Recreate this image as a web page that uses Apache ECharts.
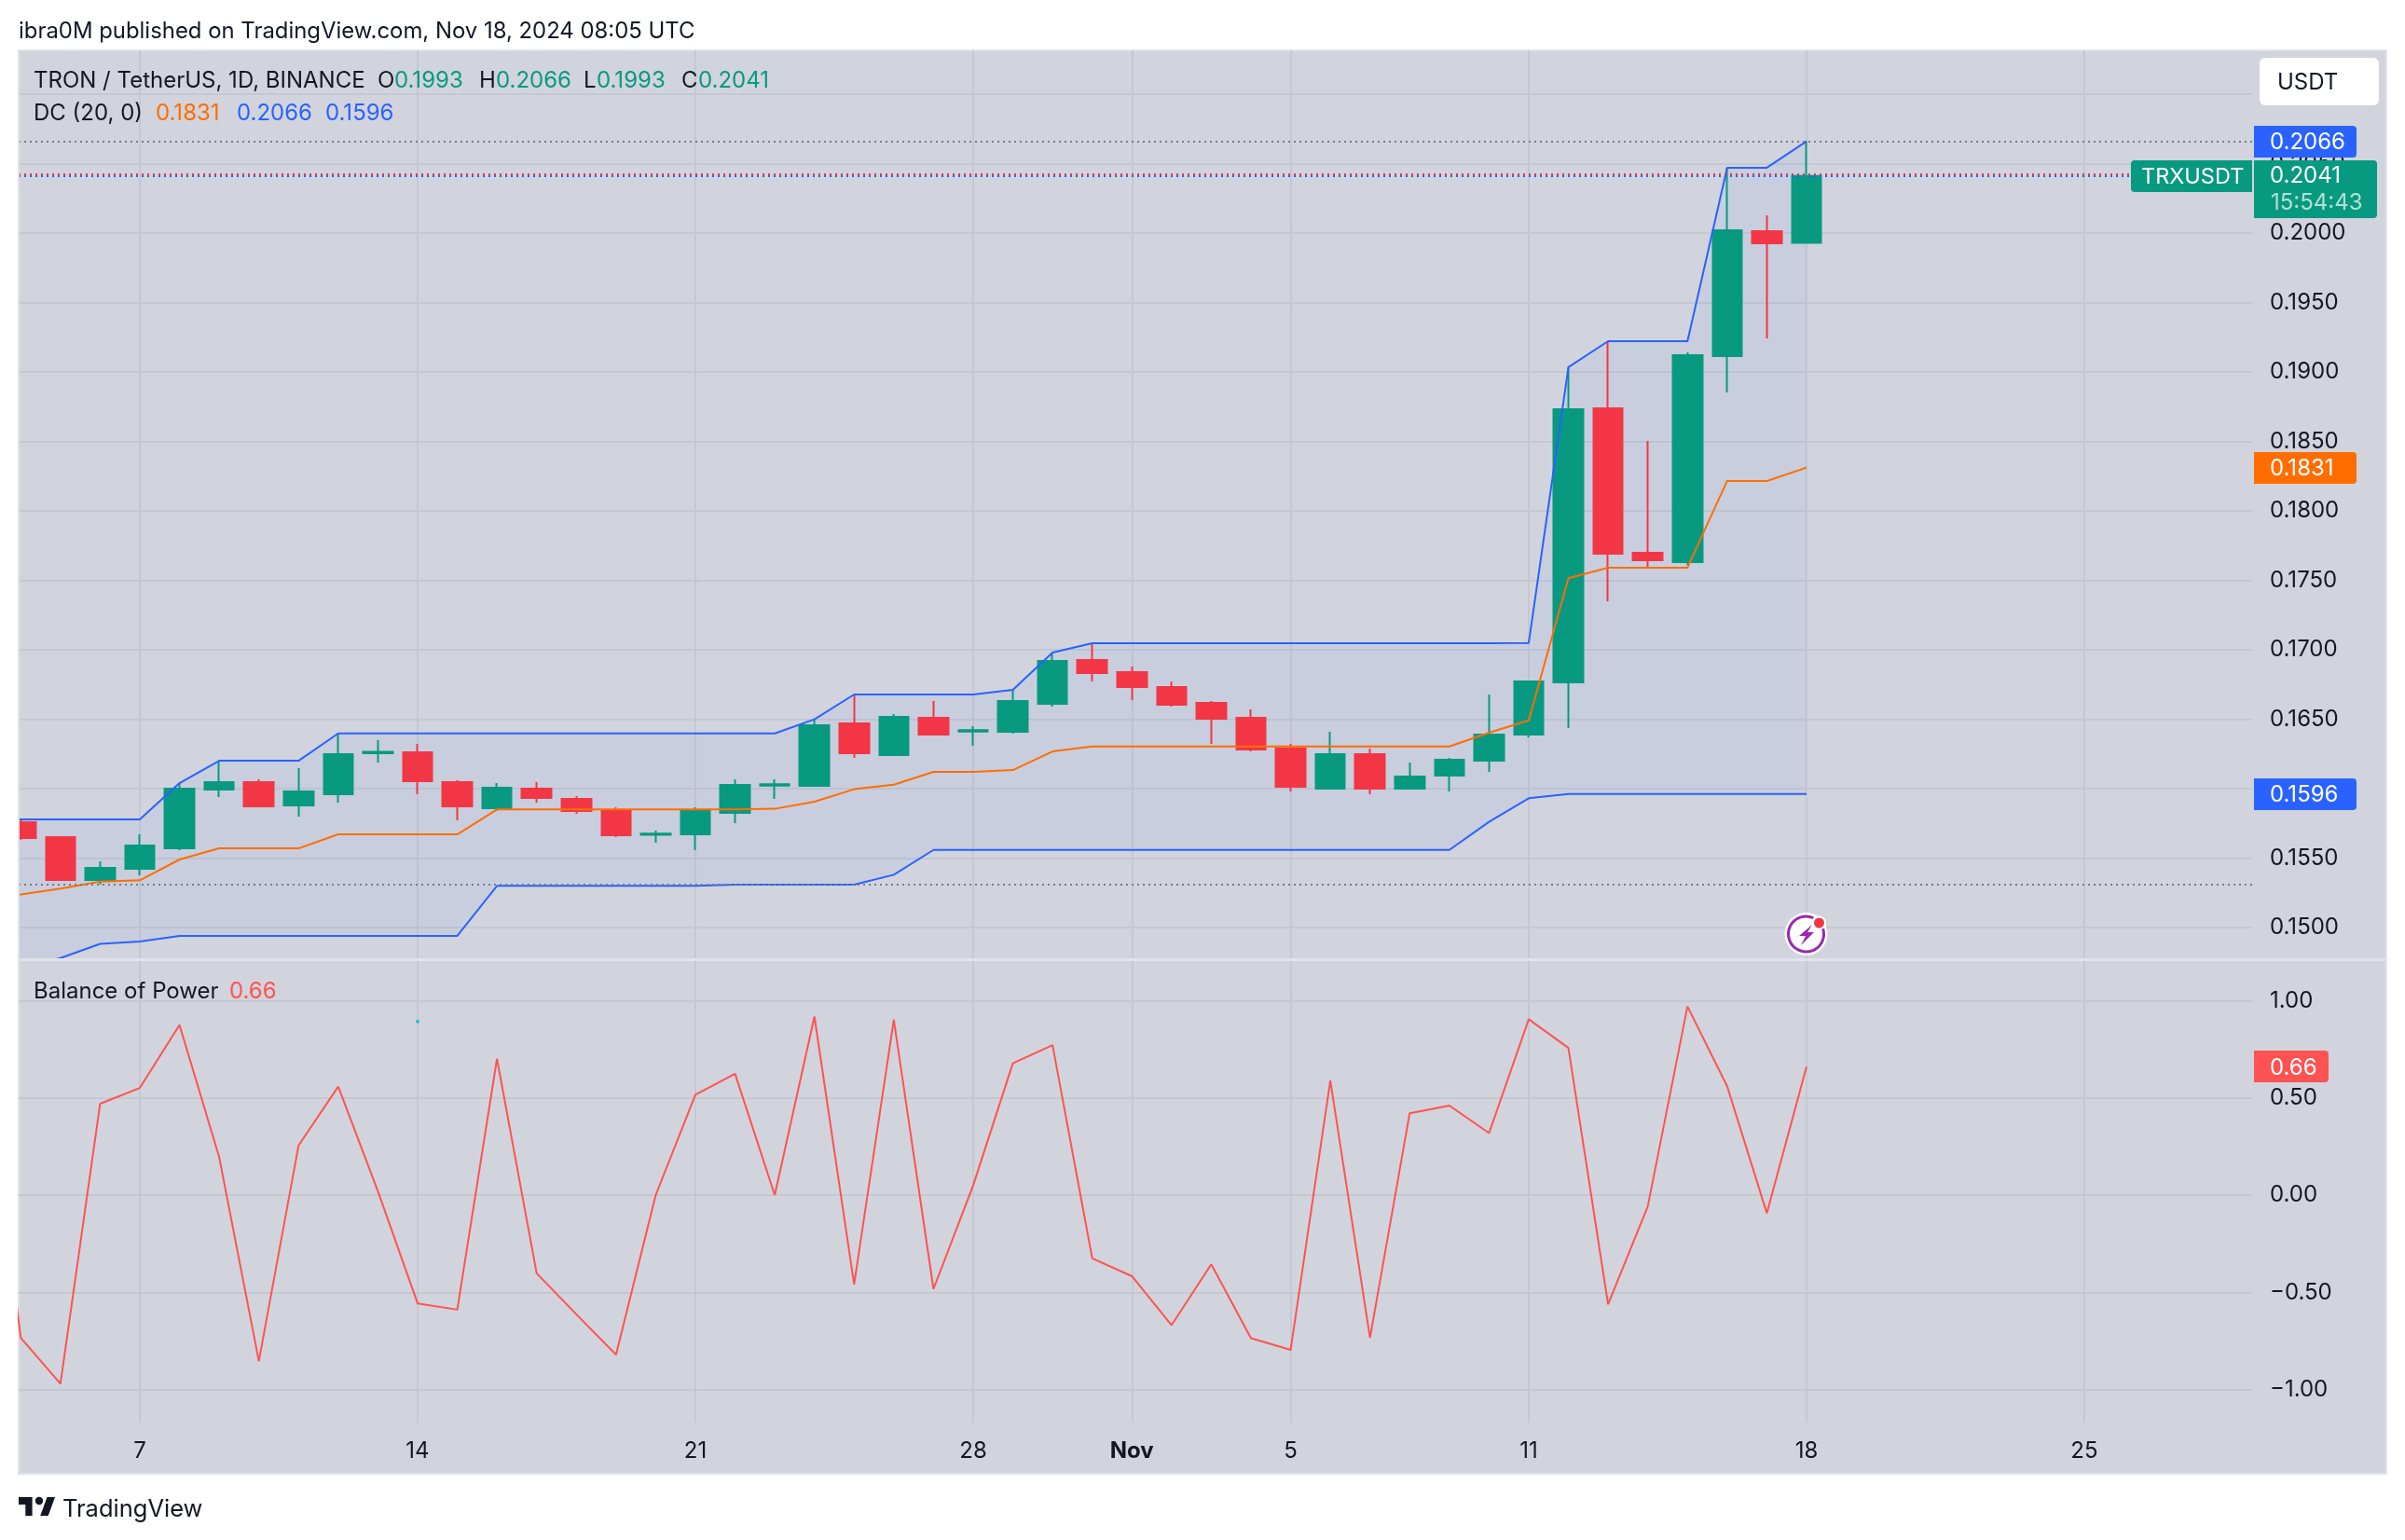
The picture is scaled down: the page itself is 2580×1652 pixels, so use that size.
<!DOCTYPE html>
<html>
<head>
<meta charset="utf-8">
<style>html,body{margin:0;padding:0;background:#fff}#c{width:2580px;height:1652px}</style>
<script src="https://cdn.jsdelivr.net/npm/echarts@6/dist/echarts.min.js"></script>
</head>
<body>
<div id="c"></div>
<script>
const dates = ['10-03','10-04','10-05','10-06','10-07','10-08','10-09','10-10','10-11','10-12','10-13','10-14','10-15','10-16','10-17','10-18','10-19','10-20','10-21','10-22','10-23','10-24','10-25','10-26','10-27','10-28','10-29','10-30','10-31','11-01','11-02','11-03','11-04','11-05','11-06','11-07','11-08','11-09','11-10','11-11','11-12','11-13','11-14','11-15','11-16','11-17','11-18'];
const opens = [.1585,.15758,.15651,.15342,.15423,.1557,.15993,.16047,.15879,.1596,.16255,.16262,.16047,.15859,.16,.15926,.15846,.15668,.15671,.15826,.16022,.1602,.1647,.16242,.1651,.16411,.16409,.16611,.16926,.16839,.16732,.16617,.1651,.16289,.16,.16248,.16,.16094,.16201,.16389,.16765,.18738,.17698,.17631,.19114,.20013,.1993];
const closes = [.1576,.15644,.15342,.1543,.15591,.16,.16047,.15872,.1598,.16248,.16265,.16054,.15872,.16007,.15933,.15839,.15664,.15677,.15839,.16027,.16032,.16456,.16255,.16517,.16389,.16421,.16631,.16919,.16832,.16732,.16604,.16503,.16282,.16013,.16248,.16,.16087,.16208,.16389,.16772,.18732,.17691,.17644,.19121,.2002,.19926,.2041];
const lows = [.157,.15633,.15342,.15311,.15376,.15557,.1594,.15866,.15799,.15899,.16188,.1596,.15772,.15839,.15899,.15819,.15651,.15611,.15557,.15752,.15926,.1602,.16221,.16242,.16389,.16309,.16396,.16591,.16772,.16638,.16591,.16322,.16268,.1598,.16,.1596,.16,.1598,.16121,.16369,.16436,.17349,.17591,.17611,.18852,.19242,.1993];
const highs = [.159,.15776,.15658,.15477,.15671,.1604,.16201,.16067,.16148,.16398,.16349,.16322,.1606,.1604,.16047,.15946,.15866,.15698,.15866,.16067,.16067,.16499,.16678,.16537,.16631,.1645,.16711,.1698,.17047,.16879,.16772,.16631,.1657,.16322,.16409,.16289,.16188,.16221,.16678,.16779,.19034,.19221,.18503,.19141,.2047,.20128,.2066];
const dcUpper = [.15779,.15779,.15779,.15779,.15779,.1604,.16201,.16201,.16201,.16398,.16398,.16398,.16398,.16398,.16398,.16398,.16398,.16398,.16398,.16398,.16398,.16499,.16678,.16678,.16678,.16678,.16711,.1698,.17047,.17047,.17047,.17047,.17047,.17047,.17047,.17047,.17047,.17047,.17047,.17049,.19034,.19221,.19221,.19221,.2047,.2047,.2066];
const dcLower = [.1466,.147,.1478,.14883,.14899,.1494,.1494,.1494,.1494,.1494,.1494,.1494,.1494,.153,.153,.153,.153,.153,.153,.15309,.15309,.15309,.15309,.1538,.15559,.15559,.15559,.15559,.15559,.15559,.15559,.15559,.15559,.15559,.15559,.15559,.15559,.15559,.15761,.15931,.15962,.15962,.15962,.15962,.15962,.15962,.15962];
const dcBasis = [.152,.15239,.1528,.15331,.1534,.1549,.1557,.1557,.1557,.15671,.15671,.15671,.15671,.1585,.1585,.1585,.1585,.1585,.1585,.1585,.15855,.15906,.15996,.16029,.16121,.16121,.16134,.16268,.16304,.16304,.16304,.16304,.16304,.16304,.16304,.16304,.16304,.16304,.16403,.16492,.17515,.17591,.17591,.17591,.18215,.18215,.18311];
const bop = [.9,-.734,-.97,.47,.551,.875,.195,-.854,.255,.558,.02,-.557,-.589,.701,-.402,-.613,-.821,0,.516,.624,0,.918,-.46,.902,-.483,.05,.678,.771,-.325,-.417,-.669,-.356,-.736,-.796,.589,-.734,.421,.46,.319,.904,.757,-.562,-.058,.97,.56,-.093,.66];
const hiLoLines = [.20658,.15311];
const priceLines = [.20421,.20411];
const priceTicks = [.15,.155,.16,.165,.17,.175,.18,.185,.19,.195,.2,.205,.21];
const bopTicks = [-1,-.5,0,.5,1];
const timeTicks = ['10-07','10-14','10-21','10-28','11-01','11-05','11-11','11-18','11-25'];
const timeLabels = ['7','14','21','28','Nov','5','11','18','25'];
const dotDate = '10-14', dotValue = .893;

const FONT = 'Inter';
const INK = '#131722', GREEN = '#089981', RED = '#f23645', BLUE = '#2962ff', ORANGE = '#ff6d00', BOPC = '#ff5252', PANEL = '#d1d4dc', GRID = '#c5c8d1';
// x positions are day numbers counted from 7 Oct 2024
const day0 = Date.parse('2024-10-07T00:00:00Z');
const t = s => Math.round((Date.parse('2024-' + s + 'T00:00:00Z') - day0) / 864e5);
const T = dates.map(t), TT = timeTicks.map(t);
const pairs = a => T.map((x, i) => [x, a[i]]);
const xMin = -3.0537, xMax = 53.229;
const LEFT = 20, RIGHT = 2416;

const xAxisBase = () => ({
  type: 'value', min: xMin, max: xMax,
  axisLine: {show: false},
  axisTick: {show: false, customValues: TT},
  splitLine: {show: true, lineStyle: {color: GRID, width: 2}},
  minorTick: {show: false}
});

const chart = echarts.init(document.getElementById('c'), null, {renderer: 'canvas', width: 2580, height: 1652});
chart.setOption({
  animation: false,
  backgroundColor: '#fff',
  textStyle: {fontFamily: FONT},
  grid: [
    {left: LEFT, width: RIGHT - LEFT, top: 54, height: 975},
    {left: LEFT, width: RIGHT - LEFT, top: 1031, height: 495}
  ],
  xAxis: [
    Object.assign(xAxisBase(), {gridIndex: 0, axisLabel: {show: false}}),
    Object.assign(xAxisBase(), {gridIndex: 1, axisLabel: {
      show: true, customValues: TT, color: INK, fontSize: 24, fontFamily: FONT, margin: 19, hideOverlap: false, showMinLabel: true, showMaxLabel: true,
      formatter: v => { const l = timeLabels[TT.indexOf(v)]; return l === 'Nov' ? '{b|Nov}' : l; },
      rich: {b: {fontWeight: 700, fontSize: 24, color: INK, fontFamily: FONT}}
    }})
  ],
  yAxis: [
    {type: 'value', gridIndex: 0, position: 'right', min: 0.14772, max: 0.21315, scale: true,
     axisLine: {show: false}, axisTick: {show: false, customValues: priceTicks},
     splitLine: {show: true, lineStyle: {color: GRID, width: 2}},
     axisLabel: {customValues: priceTicks, color: INK, fontSize: 24, fontFamily: FONT, margin: 19, padding: [6, 0, 0, 0], formatter: v => v.toFixed(4)}},
    {type: 'value', gridIndex: 1, position: 'right', min: -1.1697, max: 1.2033, scale: true,
     axisLine: {show: false}, axisTick: {show: false, customValues: bopTicks},
     splitLine: {show: true, lineStyle: {color: GRID, width: 2}},
     axisLabel: {customValues: bopTicks, color: INK, fontSize: 24, fontFamily: FONT, margin: 19, padding: [6, 0, 0, 0], formatter: v => v.toFixed(2).replace('-', '\u2212')}}
  ],
  series: [
    {name: 'DC band', type: 'custom', xAxisIndex: 0, yAxisIndex: 0, silent: true, clip: true,
     encode: {x: 0, y: 1}, data: pairs(dcUpper),
     renderItem: (params, api) => {
       if (params.dataIndex !== 0) return null;
       const up = T.map((x, i) => api.coord([x, dcUpper[i]]));
       const lo = T.map((x, i) => api.coord([x, dcLower[i]])).reverse();
       return {type: 'polygon', shape: {points: up.concat(lo)}, style: {fill: 'rgba(41,98,255,0.05)'}};
     }},
    {name: 'DC upper', type: 'line', xAxisIndex: 0, yAxisIndex: 0, showSymbol: false, silent: true, lineStyle: {color: BLUE, width: 2}, data: pairs(dcUpper)},
    {name: 'DC lower', type: 'line', xAxisIndex: 0, yAxisIndex: 0, showSymbol: false, silent: true, lineStyle: {color: BLUE, width: 2}, data: pairs(dcLower)},
    {name: 'DC basis', type: 'line', xAxisIndex: 0, yAxisIndex: 0, showSymbol: false, silent: true, lineStyle: {color: ORANGE, width: 2}, data: pairs(dcBasis)},
    {name: 'TRXUSDT', type: 'candlestick', xAxisIndex: 0, yAxisIndex: 0, barWidth: 32, clip: true, silent: true,
     encode: {x: 0, y: [1, 2, 3, 4]},
     itemStyle: {color: GREEN, color0: RED, borderColor: GREEN, borderColor0: RED, borderWidth: 2},
     data: T.map((x, i) => [x, opens[i], closes[i], lows[i], highs[i]]),
     markLine: {silent: true, symbol: 'none', animation: false, precision: 5, label: {show: false},
       data: [
         {yAxis: hiLoLines[0], lineStyle: {color: '#787b86', type: [2, 4], width: 2}},
         {yAxis: hiLoLines[1], lineStyle: {color: '#787b86', type: [2, 4], width: 2}},
         {yAxis: priceLines[0], lineStyle: {color: RED, type: [2, 4], width: 2}},
         {yAxis: priceLines[1], lineStyle: {color: BLUE, type: [2, 4], width: 2}}
       ]}},
    {name: 'Balance of Power', type: 'line', xAxisIndex: 1, yAxisIndex: 1, showSymbol: false, silent: true, lineStyle: {color: BOPC, width: 2}, data: pairs(bop)},
    {name: 'marker', type: 'scatter', xAxisIndex: 1, yAxisIndex: 1, symbolSize: 4, silent: true, itemStyle: {color: '#00bcd4'}, data: [[t(dotDate), dotValue]]}
  ]
});

// overlays: tags follow the axes' own scales
const py = (v) => chart.convertToPixel({yAxisIndex: 0}, v);
const oy = (v) => chart.convertToPixel({yAxisIndex: 1}, v);
const txt = (x, y, s, color, size, extra) => ({type: 'text', z: 200, style: Object.assign({x, y, text: s, fill: color, fontSize: size || 24, fontFamily: FONT, verticalAlign: 'middle', align: 'left'}, extra || {})});
const box = (x, y, w, h, color, r) => ({type: 'rect', z: 150, shape: {x, y, width: w, height: h, r: r || 0}, style: {fill: color}});
const tag = (y, w, color, s) => [box(2418, Math.round(y) - 17, w, 34, color, [0, 4, 4, 0]), txt(2435, y + 1, s, '#fff', 24)];

const legend1 = [[36, 'TRON / TetherUS, 1D, BINANCE', INK], [405, 'O', INK], [423, '0.1993', GREEN], [514, 'H', INK], [532, '0.2066', GREEN], [626, 'L', INK], [640, '0.1993', GREEN], [731, 'C', INK], [749, '0.2041', GREEN]];
const legend2 = [[36, 'DC (20, 0)', INK], [167, '0.1831', ORANGE], [254, '0.2066', BLUE], [349, '0.1596', BLUE]];
const legend3 = [[36, 'Balance of Power', INK], [246, '0.66', BOPC]];

const els = [
  {type: 'rect', z: -100, shape: {x: 20, y: 54, width: 2540, height: 1527}, style: {fill: PANEL, stroke: '#e0e3eb', lineWidth: 2}},
  {type: 'rect', z: -50, shape: {x: 20, y: 1028, width: 2540, height: 3}, style: {fill: '#e0e3eb'}},
  {type: 'rect', z: 100, shape: {x: 20, y: 1028, width: 2396, height: 3}, style: {fill: '#e0e3eb'}},
  {type: 'rect', z: 120, shape: {x: 0, y: 54, width: 19, height: 976}, style: {fill: '#fff'}},
  {type: 'rect', z: 121, shape: {x: 19, y: 54, width: 2, height: 976}, style: {fill: '#e0e3eb'}},
  {type: 'rect', z: 300, shape: {x: 2424, y: 62, width: 128, height: 51, r: 6}, style: {fill: '#fff'}},
  {type: 'text', z: 301, style: {x: 2443, y: 88.5, text: 'USDT', fill: INK, fontSize: 24, fontFamily: FONT, verticalAlign: 'middle'}},
  txt(20, 33.5, 'ibra0M published on TradingView.com, Nov 18, 2024 08:05 UTC', INK, 23.9),
  ...legend1.map(l => txt(l[0], 86.5, l[1], l[2], 24)),
  ...legend2.map(l => txt(l[0], 121.5, l[1], l[2], 24)),
  ...legend3.map(l => txt(l[0], 1063.5, l[1], l[2], 24)),
  ...tag(py(0.2066), 110, BLUE, '0.2066'),
  ...tag(py(0.1831), 110, ORANGE, '0.1831'),
  ...tag(py(0.1596), 110, BLUE, '0.1596'),
  ...tag(oy(0.66), 80, BOPC, '0.66'),
  box(2286, 172, 130, 34, GREEN, [4, 0, 0, 4]),
  txt(2297, 189.5, 'TRXUSDT', '#fff', 23.5),
  box(2418, 172, 132, 62, GREEN, [0, 4, 4, 0]),
  txt(2435, 189, '0.2041', '#fff', 24),
  txt(2436, 217.5, '15:54:43', '#b0e0d5', 24),
  // flash icon
  {type: 'circle', z: 210, shape: {cx: 1937.5, cy: 1002, r: 23}, style: {fill: '#fff'}},
  {type: 'arc', z: 211, shape: {cx: 1937.5, cy: 1002, r: 19, startAngle: -0.35, endAngle: -1.15, clockwise: true}, style: {stroke: '#9c27b0', lineWidth: 3, fill: null}},
  {type: 'polygon', z: 212, shape: {points: [[1944, 992], [1930, 1004], [1937, 1004], [1932, 1014], [1946, 1000], [1939, 1000]]}, style: {fill: '#9c27b0'}},
  {type: 'circle', z: 213, shape: {cx: 1951.5, cy: 990, r: 7.5}, style: {fill: '#fff'}},
  {type: 'circle', z: 214, shape: {cx: 1951.5, cy: 990, r: 5.5}, style: {fill: '#f23645'}},
  // TradingView logo
  {type: 'polygon', z: 200, shape: {points: [[20, 1606], [34.6, 1606], [34.6, 1626], [27.3, 1626], [27.3, 1614], [20, 1614]]}, style: {fill: INK}},
  {type: 'polygon', z: 200, shape: {points: [[51.7, 1626], [43.2, 1626], [50.5, 1606], [59, 1606]]}, style: {fill: INK}},
  {type: 'circle', z: 200, shape: {cx: 42, cy: 1610, r: 4.2}, style: {fill: INK}},
  txt(67, 1619, 'TradingView', INK, 25.5)
];
chart.setOption({graphic: {elements: els}});
</script>
</body>
</html>
